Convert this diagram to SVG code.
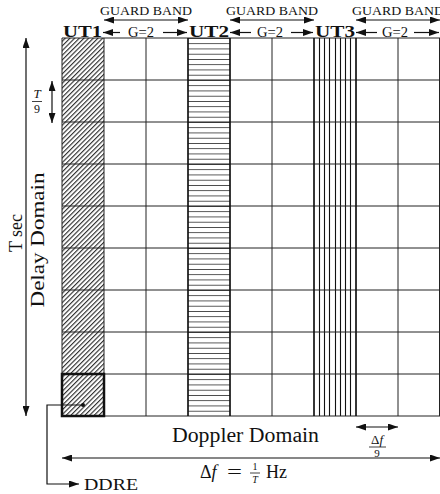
<svg xmlns="http://www.w3.org/2000/svg" width="440" height="494" viewBox="0 0 440 494">
<style>
text{font-family:"Liberation Serif","Times New Roman",serif;fill:#111}
.grid{stroke:#222;stroke-width:1;fill:none}
.conn{stroke:#111;stroke-width:1.2;fill:none}
.gb{font-size:11.5px}
.ut{font-size:16px;font-weight:bold}
.g{font-size:14px}
.it{font-style:italic}
</style>
<defs>
<marker id="ah" viewBox="0 0 10 7" refX="10" refY="3.5" markerUnits="userSpaceOnUse" markerWidth="10" markerHeight="7" orient="auto-start-reverse">
<path d="M0,0 L10,3.5 L0,7 z" fill="#111"/>
</marker>
<pattern id="hatch" patternUnits="userSpaceOnUse" width="3.3" height="3.3" patternTransform="rotate(45)">
<line x1="0.6" y1="0" x2="0.6" y2="3.3" stroke="#111" stroke-width="1"/>
</pattern>
<pattern id="hstripe" patternUnits="userSpaceOnUse" x="0" y="38" width="42" height="5.25">
<line x1="0" y1="0" x2="42" y2="0" stroke="#000" stroke-width="1.3"/>
</pattern>
</defs>

<g id="ut1-column">
<rect x="62" y="38" width="42" height="378" fill="url(#hatch)"/>
</g>
<g id="ut2-column">
<rect x="188" y="38" width="42" height="378" fill="url(#hstripe)"/>
</g>
<g id="ut3-column">
<path d="M319.5,38V416 M324.5,38V416 M329.5,38V416 M335.5,38V416 M340.5,38V416 M345.5,38V416 M350.5,38V416" stroke="#111" stroke-width="1.1"/>
</g>

<g id="grid">
<path class="grid" d="M62,38V416 M104,38V416 M146,38V416 M188,38V416 M230,38V416 M272,38V416 M314,38V416 M356,38V416 M398,38V416 M439.5,38V416"/>
<path class="grid" d="M62,38H440 M62,80H440 M62,122H440 M62,164H440 M62,206H440 M62,248H440 M62,290H440 M62,332H440 M62,374H440 M62,416H440"/>
<path d="M188,38V416 M230,38V416 M314,38V416 M356,38V416" stroke="#111" stroke-width="1.4"/>
</g>

<g id="ddre-cell">
<rect x="62" y="374" width="42" height="42" fill="none" stroke="#111" stroke-width="2.5"/>
<circle cx="83" cy="405" r="2" fill="#111"/>
</g>

<g id="labels-top">
<text class="gb" x="146" y="15" text-anchor="middle" textLength="92" lengthAdjust="spacingAndGlyphs">GUARD BAND</text>
<text class="gb" x="272" y="15" text-anchor="middle" textLength="92" lengthAdjust="spacingAndGlyphs">GUARD BAND</text>
<text class="gb" x="398" y="15" text-anchor="middle" textLength="92" lengthAdjust="spacingAndGlyphs">GUARD BAND</text>
<text class="ut" x="63" y="37" textLength="39" lengthAdjust="spacingAndGlyphs">UT1</text>
<text class="ut" x="189" y="37" textLength="40" lengthAdjust="spacingAndGlyphs">UT2</text>
<text class="ut" x="315" y="37" textLength="40" lengthAdjust="spacingAndGlyphs">UT3</text>
<text class="g" x="141" y="37" text-anchor="middle" textLength="26" lengthAdjust="spacingAndGlyphs">G=2</text>
<text class="g" x="270" y="37" text-anchor="middle" textLength="26" lengthAdjust="spacingAndGlyphs">G=2</text>
<text class="g" x="395" y="37" text-anchor="middle" textLength="26" lengthAdjust="spacingAndGlyphs">G=2</text>
</g>

<g id="labels-left">
<text x="22" y="233" font-size="18" text-anchor="middle" transform="rotate(-90 22 233)">T sec</text>
<text x="44" y="240" font-size="19" text-anchor="middle" textLength="135" lengthAdjust="spacingAndGlyphs" transform="rotate(-90 44 240)">Delay Domain</text>
<text class="it" x="37" y="98" font-size="13" text-anchor="middle">T</text>
<line x1="32" y1="101.5" x2="42" y2="101.5" stroke="#111" stroke-width="0.8"/>
<text x="37" y="113" font-size="12" text-anchor="middle">9</text>
</g>

<g id="labels-bottom">
<text x="245.5" y="442" font-size="20" text-anchor="middle" textLength="147" lengthAdjust="spacingAndGlyphs">Doppler Domain</text>
<text x="377" y="444" font-size="13" text-anchor="middle">Δ<tspan class="it">f</tspan></text>
<line x1="369" y1="447" x2="386" y2="447" stroke="#111" stroke-width="0.8"/>
<text x="377" y="456.5" font-size="11" text-anchor="middle">9</text>
<text x="200" y="478" font-size="18">Δ<tspan class="it">f</tspan></text>
<text x="227" y="478" font-size="18" textLength="15" lengthAdjust="spacingAndGlyphs">=</text>
<text x="255" y="470" font-size="10" text-anchor="middle">1</text>
<line x1="250" y1="473" x2="260" y2="473" stroke="#111" stroke-width="0.8"/>
<text class="it" x="255" y="483" font-size="10" text-anchor="middle">T</text>
<text x="266" y="478" font-size="18">Hz</text>
<text x="84" y="490" font-size="16" textLength="54" lengthAdjust="spacingAndGlyphs">DDRE</text>
</g>

<g id="connectors">
<line class="conn" x1="104" y1="20" x2="188" y2="20" marker-start="url(#ah)" marker-end="url(#ah)"/>
<line class="conn" x1="230" y1="20" x2="314" y2="20" marker-start="url(#ah)" marker-end="url(#ah)"/>
<line class="conn" x1="356" y1="20" x2="440" y2="20" marker-start="url(#ah)" marker-end="url(#ah)"/>
<line class="conn" x1="103" y1="32.5" x2="120" y2="32.5" marker-start="url(#ah)"/>
<line class="conn" x1="163" y1="32.5" x2="187" y2="32.5" marker-end="url(#ah)"/>
<line class="conn" x1="230" y1="32.5" x2="251" y2="32.5" marker-start="url(#ah)"/>
<line class="conn" x1="291" y1="32.5" x2="313" y2="32.5" marker-end="url(#ah)"/>
<line class="conn" x1="356" y1="32.5" x2="377" y2="32.5" marker-start="url(#ah)"/>
<line class="conn" x1="414" y1="32.5" x2="439" y2="32.5" marker-end="url(#ah)"/>
<line class="conn" x1="26" y1="38" x2="26" y2="416" marker-start="url(#ah)" marker-end="url(#ah)"/>
<line class="conn" x1="52" y1="81" x2="52" y2="123" marker-start="url(#ah)" marker-end="url(#ah)"/>
<line class="conn" x1="356" y1="427" x2="398" y2="427" marker-start="url(#ah)" marker-end="url(#ah)"/>
<line class="conn" x1="62" y1="458" x2="440" y2="458" marker-start="url(#ah)" marker-end="url(#ah)"/>
<path class="conn" d="M83,405 H47 V484 H79" marker-end="url(#ah)"/>
</g>
</svg>
